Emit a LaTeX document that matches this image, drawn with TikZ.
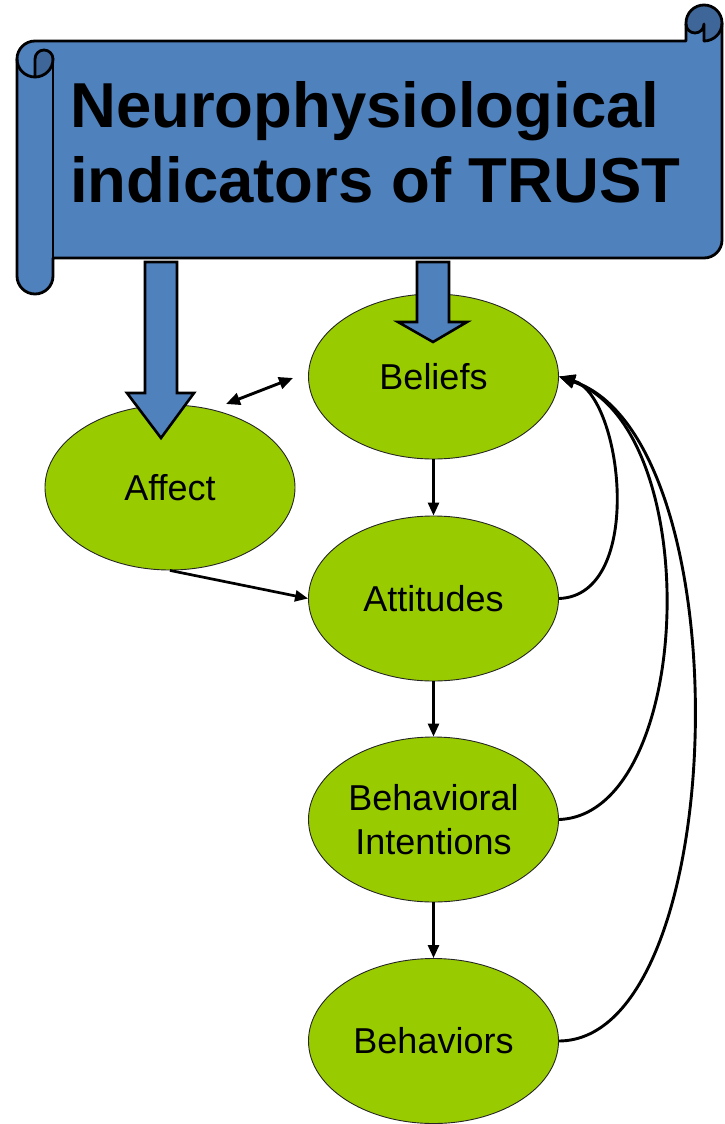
\documentclass[tikz,border=0pt]{standalone}
\usepackage{fontspec}
\setmainfont{Liberation Sans}
\usetikzlibrary{shapes.geometric,arrows.meta}
\definecolor{scrollblue}{RGB}{79,129,189}
\definecolor{scrolldark}{RGB}{63,102,153}
\definecolor{leaf}{RGB}{153,204,0}
\begin{document}
\begin{tikzpicture}[x=1pt,y=1pt,
  scrollline/.style={draw=black, line width=2.8pt, line join=round, line cap=round},
  bubble/.style={ellipse, draw=black!85, line width=0.9pt, fill=leaf, minimum width=250pt, minimum height=165pt, inner sep=0pt, align=center, font=\fontsize{36}{44}\selectfont},
  link/.style={draw=black, line width=2.7pt, -{Triangle[length=13pt,width=11pt]}},
  dbl/.style={draw=black, line width=2.9pt, {Triangle[length=14pt,width=12pt]}-{Triangle[length=14pt,width=12pt]}},
  feedback/.style={draw=black, line width=2.9pt, -{Triangle[length=16pt,width=13pt]}},
  blockarrow/.style={fill=scrollblue, draw=black, line width=2.6pt, line join=miter},
  titletext/.style={anchor=base west, inner sep=0pt, font=\fontsize{63.5}{75}\selectfont\bfseries}
]
\useasboundingbox (0,0) rectangle (725,-1124);

% ---- scroll banner ----
\fill[scrollblue] (17,-59) arc[start angle=180, end angle=90, radius=18]
  -- (686,-41) -- (686,-23) arc[start angle=180, end angle=0, radius=18]
  -- (722,-240) arc[start angle=0, end angle=-90, radius=18]
  -- (53,-258) -- (53,-276) arc[start angle=0, end angle=-180, radius=18] -- cycle;
% dark curl, top right
\fill[scrolldark] (704,-41) -- (704,-24) arc[start angle=0, end angle=-180, radius=9]
  -- (686,-23) arc[start angle=180, end angle=0, radius=18]
  arc[start angle=0, end angle=-90, radius=18] -- cycle;
% dark curl, left
\fill[scrolldark] (35,-77) -- (35,-59) arc[start angle=180, end angle=0, radius=9]
  arc[start angle=0, end angle=-90, radius=18] -- cycle;
% outlines
\draw[scrollline] (17,-59) arc[start angle=180, end angle=90, radius=18]
  -- (686,-41) -- (686,-23) arc[start angle=180, end angle=0, radius=18]
  -- (722,-240) arc[start angle=0, end angle=-90, radius=18]
  -- (53,-258) -- (53,-276) arc[start angle=0, end angle=-180, radius=18] -- cycle;
\draw[scrollline] (722,-23) arc[start angle=0, end angle=-90, radius=18];
\draw[scrollline] (704,-41) -- (704,-24) arc[start angle=0, end angle=-180, radius=9];
\draw[scrollline] (17,-59) arc[start angle=180, end angle=360, radius=18];
\draw[scrollline] (35,-77) -- (35,-59) arc[start angle=180, end angle=0, radius=9];
\draw[scrollline] (53,-59) -- (53,-276);

\node[titletext] (title1) at (70,-127) {Neurophysiological};
\node[titletext] (title2) at (70,-202) {indicators of TRUST};

% ---- ellipses ----
\node[bubble] (bel) at (433.5,-376.5) {Beliefs};
\node[bubble] (aff) at (170,-487.5) {Affect};
\node[bubble] (att) at (433.5,-598.5) {Attitudes};
\node[bubble] (bi)  at (433.5,-819.5) {Behavioral\\Intentions};
\node[bubble] (beh) at (433.5,-1041) {Behaviors};

% ---- block arrows ----
\draw[blockarrow] (145,-262) -- (177,-262) -- (177,-393) -- (194,-393) -- (161,-438)
  -- (127,-393) -- (145,-393) -- cycle;
\draw[blockarrow] (417,-262) -- (449,-262) -- (449,-322) -- (467,-322) -- (433,-342)
  -- (398,-322) -- (417,-322) -- cycle;

% ---- connectors ----
\coordinate (da1) at (226,-404);
\coordinate (da2) at (293,-378);
\draw[dbl] (da1) -- (da2);
\draw[link] (bel.south) -- (att.north);
\draw[link] (att.south) -- (bi.north);
\draw[link] (bi.south) -- (beh.north);
\draw[link] (aff.south) -- (att.west);
\draw[feedback] (att.east) .. controls +(87,3) and +(63.5,-18.5) .. (bel.east);
\draw[feedback] (bi.east) .. controls +(135,5) and +(148,-53.5) .. (bel.east);
\draw[feedback] (beh.east) .. controls +(172,1) and +(186.5,-63.5) .. (bel.east);
\end{tikzpicture}
\end{document}
